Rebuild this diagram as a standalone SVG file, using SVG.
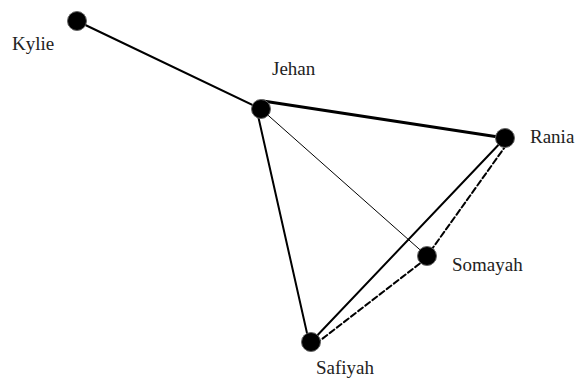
<svg xmlns="http://www.w3.org/2000/svg" width="576" height="379" viewBox="0 0 576 379">
<style>
.e{stroke:#000;fill:none;stroke-linecap:round}
.n{fill:#000;stroke:#666;stroke-width:1}
.t{font-family:"Liberation Serif",serif;font-size:19px;fill:#222}
</style>
<rect width="576" height="379" fill="#fff"/>
<g id="connectors">
<line class="e" x1="77" y1="21" x2="261" y2="109" stroke-width="2"/>
<line class="e" x1="263" y1="101" x2="505" y2="138" stroke-width="3"/>
<line class="e" x1="261" y1="109" x2="427" y2="256" stroke-width="1"/>
<line class="e" x1="257" y1="111" x2="309" y2="342" stroke-width="2"/>
<line class="e" x1="505" y1="138" x2="311" y2="342" stroke-width="2"/>
<line class="e" x1="507" y1="144" x2="427" y2="256" stroke-width="2" stroke-dasharray="6,3"/>
<line class="e" x1="427" y1="258" x2="313" y2="346" stroke-width="2" stroke-dasharray="6,3"/>
</g>
<g id="Kylie"><circle class="n" cx="77" cy="21" r="9.5"/><text class="t" x="12" y="50">Kylie</text></g>
<g id="Jehan"><circle class="n" cx="261" cy="109" r="9.5"/><text class="t" x="272" y="75">Jehan</text></g>
<g id="Rania"><circle class="n" cx="505" cy="138" r="9.5"/><text class="t" x="530" y="143">Rania</text></g>
<g id="Somayah"><circle class="n" cx="427" cy="256" r="9.5"/><text class="t" x="452" y="271">Somayah</text></g>
<g id="Safiyah"><circle class="n" cx="311" cy="342" r="9.5"/><text class="t" x="316" y="374">Safiyah</text></g>
</svg>
